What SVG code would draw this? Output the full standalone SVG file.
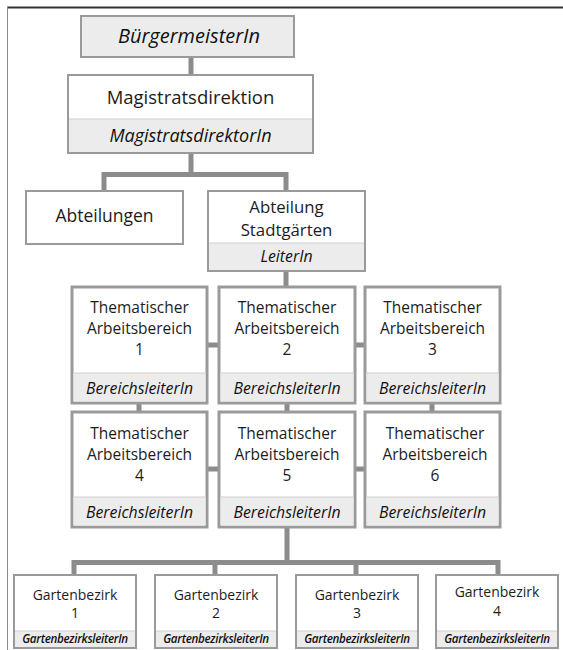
<svg xmlns="http://www.w3.org/2000/svg" width="563" height="650" viewBox="0 0 563 650">
  <style>
    .box { fill: #ffffff; stroke: #9a9a9a; stroke-width: 2; }
    .ta { fill: #ffffff; stroke: #9a9a9a; stroke-width: 3; }
    .band { fill: #ececec; stroke: none; }
    .div { stroke: #cfcfcf; stroke-width: 1; }
    .wire { fill: none; stroke: #8c8c8c; stroke-width: 5; }
    text { font-family: "Open Sans", "Noto Sans", "DejaVu Sans", sans-serif; fill: #1c1c1c; text-anchor: middle; }
    .t19 { font-size: 18.5px; }
    .t17 { font-size: 17.5px; }
    .t16 { font-size: 16.8px; }
    .t15 { font-size: 15.5px; }
    .t14 { font-size: 14px; }
    .i20 { font-size: 20px; font-style: italic; fill: #111; }
    .i18 { font-size: 18px; font-style: italic; fill: #111; }
    .i15 { font-size: 15.8px; font-style: italic; fill: #111; }
    .i11 { font-size: 11.6px; font-style: italic; font-weight: 600; letter-spacing: -0.3px; fill: #111; }
  </style>

  <!-- page frame -->
  <line x1="7" y1="7.5" x2="563" y2="7.5" stroke="#333333" stroke-width="2"/>
  <line x1="7.5" y1="7" x2="7.5" y2="650" stroke="#8a8a8a" stroke-width="1"/>

  <!-- connectors -->
  <g id="connectors">
    <path class="wire" d="M191 57 V75"/>
    <path class="wire" d="M191 153 V174.5 M104 191 V174.5 H286 V191"/>
    <path class="wire" d="M286 271 V287"/>
    <path class="wire" d="M207 345 H219 M355 345 H365"/>
    <path class="wire" d="M139 403 V412 M287 403 V412 M432 403 V412"/>
    <path class="wire" d="M207 469 H219 M355 469 H365"/>
    <path class="wire" d="M287 527 V562.5 M74 575 V562.5 H498 V575 M215 562.5 V575 M356 562.5 V575"/>
  </g>

  <!-- mayor -->
  <g id="buergermeister">
    <rect x="81" y="16" width="213" height="41" fill="#ececec" stroke="#9a9a9a" stroke-width="2"/>
    <text class="i20" x="189" y="43">BürgermeisterIn</text>
  </g>

  <!-- municipal directorate -->
  <g id="magistratsdirektion">
    <rect class="box" x="68" y="75" width="245" height="78"/>
    <rect class="band" x="69" y="119" width="243" height="33"/>
    <line class="div" x1="69" y1="119" x2="312" y2="119"/>
    <text class="t19" x="190.5" y="104">Magistratsdirektion</text>
    <text class="i18" x="190.5" y="142">MagistratsdirektorIn</text>
  </g>

  <!-- departments -->
  <g id="abteilungen">
    <rect class="box" x="26" y="191" width="157" height="53"/>
    <text class="t17" x="104.5" y="222">Abteilungen</text>
  </g>

  <g id="stadtgaerten">
    <rect class="box" x="208" y="191" width="157" height="80"/>
    <rect class="band" x="209" y="243" width="155" height="27"/>
    <line class="div" x1="209" y1="243" x2="364" y2="243"/>
    <text class="t16" x="286.5" y="213">Abteilung</text>
    <text class="t16" x="286.5" y="236">Stadtgärten</text>
    <text class="i15" x="286.5" y="262">LeiterIn</text>
  </g>

  <!-- thematic work areas, row 1 -->
  <g id="ta1">
    <rect class="ta" x="72" y="287" width="135" height="116"/>
    <rect class="band" x="73.5" y="373" width="132" height="28.5"/>
    <line class="div" x1="73.5" y1="373" x2="205.5" y2="373"/>
    <text class="t15" x="139.5" y="313">Thematischer</text>
    <text class="t15" x="139.5" y="334">Arbeitsbereich</text>
    <text class="t15" x="139.5" y="355">1</text>
    <text class="i15" x="139.5" y="394">BereichsleiterIn</text>
  </g>
  <g id="ta2">
    <rect class="ta" x="219" y="287" width="136" height="116"/>
    <rect class="band" x="220.5" y="373" width="133" height="28.5"/>
    <line class="div" x1="220.5" y1="373" x2="353.5" y2="373"/>
    <text class="t15" x="287" y="313">Thematischer</text>
    <text class="t15" x="287" y="334">Arbeitsbereich</text>
    <text class="t15" x="287" y="355">2</text>
    <text class="i15" x="287" y="394">BereichsleiterIn</text>
  </g>
  <g id="ta3">
    <rect class="ta" x="365" y="287" width="135" height="116"/>
    <rect class="band" x="366.5" y="373" width="132" height="28.5"/>
    <line class="div" x1="366.5" y1="373" x2="498.5" y2="373"/>
    <text class="t15" x="432.5" y="313">Thematischer</text>
    <text class="t15" x="432.5" y="334">Arbeitsbereich</text>
    <text class="t15" x="432.5" y="355">3</text>
    <text class="i15" x="432.5" y="394">BereichsleiterIn</text>
  </g>

  <!-- thematic work areas, row 2 -->
  <g id="ta4">
    <rect class="ta" x="72" y="412" width="135" height="115"/>
    <rect class="band" x="73.5" y="497" width="132" height="28.5"/>
    <line class="div" x1="73.5" y1="497" x2="205.5" y2="497"/>
    <text class="t15" x="139.5" y="439">Thematischer</text>
    <text class="t15" x="139.5" y="460">Arbeitsbereich</text>
    <text class="t15" x="139.5" y="481">4</text>
    <text class="i15" x="139.5" y="518">BereichsleiterIn</text>
  </g>
  <g id="ta5">
    <rect class="ta" x="219" y="412" width="136" height="115"/>
    <rect class="band" x="220.5" y="497" width="133" height="28.5"/>
    <line class="div" x1="220.5" y1="497" x2="353.5" y2="497"/>
    <text class="t15" x="287" y="439">Thematischer</text>
    <text class="t15" x="287" y="460">Arbeitsbereich</text>
    <text class="t15" x="287" y="481">5</text>
    <text class="i15" x="287" y="518">BereichsleiterIn</text>
  </g>
  <g id="ta6">
    <rect class="ta" x="365" y="412" width="135" height="115"/>
    <rect class="band" x="366.5" y="497" width="132" height="28.5"/>
    <line class="div" x1="366.5" y1="497" x2="498.5" y2="497"/>
    <text class="t15" x="435" y="439">Thematischer</text>
    <text class="t15" x="435" y="460">Arbeitsbereich</text>
    <text class="t15" x="435" y="481">6</text>
    <text class="i15" x="432.5" y="518">BereichsleiterIn</text>
  </g>

  <!-- garden districts -->
  <g id="gb1">
    <rect class="box" x="14" y="575" width="122" height="73"/>
    <rect class="band" x="15" y="631" width="120" height="16"/>
    <line class="div" x1="15" y1="631" x2="135" y2="631"/>
    <text class="t14" x="75" y="600">Gartenbezirk</text>
    <text class="t14" x="75" y="618">1</text>
    <text class="i11" x="75" y="643">GartenbezirksleiterIn</text>
  </g>
  <g id="gb2">
    <rect class="box" x="155" y="575" width="122" height="73"/>
    <rect class="band" x="156" y="631" width="120" height="16"/>
    <line class="div" x1="156" y1="631" x2="276" y2="631"/>
    <text class="t14" x="216" y="600">Gartenbezirk</text>
    <text class="t14" x="216" y="618">2</text>
    <text class="i11" x="216" y="643">GartenbezirksleiterIn</text>
  </g>
  <g id="gb3">
    <rect class="box" x="296" y="575" width="122" height="73"/>
    <rect class="band" x="297" y="631" width="120" height="16"/>
    <line class="div" x1="297" y1="631" x2="417" y2="631"/>
    <text class="t14" x="357" y="600">Gartenbezirk</text>
    <text class="t14" x="357" y="618">3</text>
    <text class="i11" x="357" y="643">GartenbezirksleiterIn</text>
  </g>
  <g id="gb4">
    <rect class="box" x="436" y="575" width="122" height="73"/>
    <rect class="band" x="437" y="631" width="120" height="16"/>
    <line class="div" x1="437" y1="631" x2="557" y2="631"/>
    <text class="t14" x="497" y="597">Gartenbezirk</text>
    <text class="t14" x="497" y="616">4</text>
    <text class="i11" x="497" y="643">GartenbezirksleiterIn</text>
  </g>
</svg>
